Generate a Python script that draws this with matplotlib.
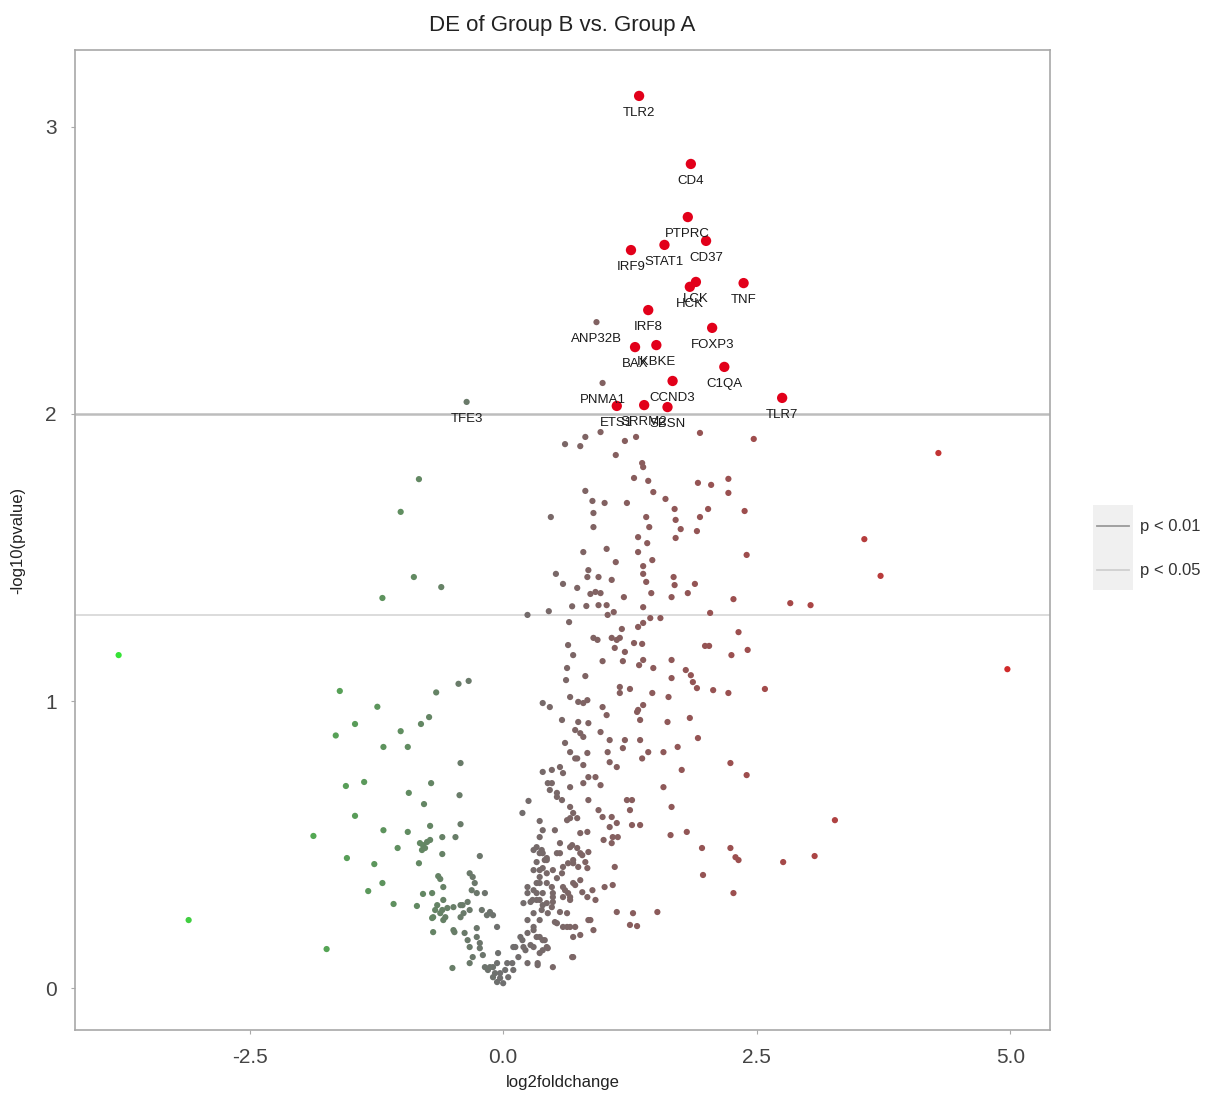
import matplotlib
matplotlib.use("Agg")
import matplotlib.pyplot as plt
import numpy as np
from matplotlib.colors import LinearSegmentedColormap, TwoSlopeNorm
from matplotlib.lines import Line2D
from matplotlib.patches import Rectangle

plt.rcParams['font.family'] = ['Liberation Sans', 'DejaVu Sans']

# ---------------- data ----------------
title = "DE of Group B vs. Group A"
x_label = "log2foldchange"
y_label = "-log10(pvalue)"
x_ticks = [-2.5, 0.0, 2.5, 5.0]
y_ticks = [0, 1, 2, 3]
threshold_values = [2.0, 1.301]
threshold_labels = ["p < 0.01", "p < 0.05"]

# labelled genes
label_genes = ["TLR2", "CD4", "PTPRC", "CD37", "IRF9", "STAT1", "LCK", "HCK", "TNF",
               "IRF8", "FOXP3", "BAX", "IKBKE", "C1QA", "CCND3", "TLR7",
               "ETS1", "SRRM2", "SBSN", "ANP32B", "PNMA1", "TFE3"]
label_fc = [1.34, 1.85, 1.82, 2.00, 1.26, 1.59, 1.90, 1.84, 2.37,
            1.43, 2.06, 1.30, 1.51, 2.18, 1.67, 2.75,
            1.12, 1.39, 1.62, 0.92, 0.98, -0.36]
label_nlp = [3.108, 2.871, 2.686, 2.603, 2.571, 2.589, 2.46, 2.443, 2.456,
             2.362, 2.30, 2.233, 2.240, 2.164, 2.115, 2.056,
             2.028, 2.031, 2.024, 2.32, 2.108, 2.042]

# all other genes (log2 fold change, -log10 p-value)
bg_fc = [
    -3.79, -3.10, -1.74, -0.83, -1.01, -0.88, -0.61, -1.19,
    -1.61, -1.24, -1.46, -1.65, -1.01, -1.18, -0.94, -0.81, -0.73, -0.66, -0.44, -0.34,
    -0.42, -1.55, -1.37, -0.93, -0.71, -0.43, -0.78, -1.46, -1.87, -1.18, -0.94, -0.72,
    -0.42, -0.60, -0.47, -0.79, -0.75, -0.80, -1.04, -0.60, -0.23, -1.54, -1.27, -0.83,
    -1.19, -1.33, -1.08, -0.85, -0.64, -0.62, -0.59, -0.79, -0.70, -0.65, -0.60, -0.55,
    -0.69, -0.59, -0.62, -0.40, -0.35, -0.33, -0.39, -0.30, -0.28, -0.31, -0.26, -0.18,
    -0.21, -0.16, -0.10, -0.06, -0.69, -0.48, -0.38, -0.26, -0.50, -0.05,
    -0.82, -0.77, -0.72, -0.33, -0.59, -0.67, -0.57, -0.70, -0.49, -0.42, -0.13, -0.42,
    -0.49, -0.35, -0.33, -0.23, -0.20, -0.30, -0.33, -0.26, -0.23, -0.18, -0.15, -0.10,
    -0.06, -0.03, 0.02, 0.04, -0.06, -0.10, -0.13, -0.08, -0.03, 0.00, 0.05, 0.10,
    0.09, 0.15, 0.12, 0.19, 0.24, 0.22, 0.27, 0.33, 0.30, 0.36, 0.30, 0.38,
    0.44, 0.43, 0.49, 0.39, 0.48, 0.53, 0.59, 0.59, 0.64, 0.69, 0.76, 0.83,
    0.30, 0.36, 0.27, 0.33, 0.39, 0.33, 0.36, 0.43, 0.56, 0.66, 0.76, 0.81,
    0.69, 0.59, 0.49, 0.56, 0.63, 0.71, 0.69, 0.76, 0.89, 0.91, 0.86, 0.88,
    0.68, 0.49, 0.34, 0.43, 0.39,
    0.24, 0.45, 0.68, 0.65, 0.64, 0.69, 0.63, 0.62, 0.66, 0.39, 0.46, 0.58,
    0.61, 0.66, 0.71, 0.39, 0.48, 0.56, 0.59, 0.44, 0.53, 0.58, 0.66, 0.69,
    0.25, 0.19, 0.36, 0.39, 0.51, 0.63, 0.33, 0.39, 0.43, 0.53, 0.69, 0.30,
    0.36, 0.43, 0.61, 0.66, 0.24, 0.20, 0.33, 0.39, 0.49, 0.63, 0.53, 0.66,
    0.24, 0.30, 0.17, 0.36, 0.10, 0.20, 0.30, 0.39, 0.69,
    0.74, 0.79, 0.83, 0.98, 1.02, 0.74, 0.84, 0.71, 0.76, 0.79, 0.96, 1.32,
    1.35, 1.38, 1.62, 1.84, 1.92, 1.05, 1.20, 1.18, 1.35, 1.43, 1.37, 1.58,
    1.72, 1.76, 2.24, 2.40, 0.73, 0.83, 0.79, 1.03, 1.05, 1.12, 0.84, 0.91,
    0.96, 0.79, 0.66, 0.48, 0.46, 0.53, 0.66, 0.73, 0.84, 0.94, 0.98, 1.07,
    1.05, 1.12, 1.22, 1.27, 1.25, 1.27, 1.35, 1.58, 1.66, 1.65, 1.81, 0.36,
    0.68, 0.76, 0.83, 0.99, 1.07, 1.08, 1.13, 0.30, 0.38, 0.41, 0.56, 0.64,
    0.73, 0.78, 0.84, 0.74, 0.83, 0.36, 0.43, 0.58, 1.10, 0.24, 0.33, 0.71,
    0.78, 0.49, 0.66, 1.00, 1.08, 0.29, 0.36, 0.48, 1.12, 1.28, 1.52, 1.25,
    1.32, 0.51, 0.59, 0.84, 0.41, 0.44, 0.36, 0.34, 0.24, 2.24, 2.29, 2.32,
    2.76, 1.97, 2.27,
    0.61, 0.76, 0.81, 0.96, 1.20, 1.31, 1.94, 2.47, 1.11, 1.37, 1.38, 1.29,
    1.43, 1.48, 1.60, 0.81, 0.88, 1.00, 1.22, 1.92, 2.05, 2.22, 2.22, 0.47,
    0.89, 0.89, 1.41, 1.44, 1.69, 1.70, 1.75, 1.70, 1.91, 1.94, 2.02, 2.38,
    1.33, 1.42, 0.79, 1.02, 1.11, 1.33, 1.47, 1.38, 1.38, 1.41, 1.46, 2.40,
    0.52, 0.59, 0.73, 0.84, 0.83, 0.94, 1.07, 0.86, 0.91, 0.96, 1.19, 1.68,
    1.69, 1.66, 1.89, 1.82, 2.27, 2.83, 0.82, 0.94, 1.02, 1.03, 1.09, 1.38,
    1.45, 1.55, 1.33, 1.38, 2.04, 1.17, 0.89, 0.93, 1.07, 1.12, 1.15, 1.29,
    1.37, 1.99, 2.03, 2.41, 2.25, 1.10, 1.20, 0.98, 1.18, 1.38, 1.34, 1.66,
    1.48, 1.66, 1.80, 1.85, 1.87, 1.91, 0.81, 2.22, 2.58, 1.15, 1.15, 1.25,
    1.47, 1.63, 1.33,
    4.29, 3.56, 3.72, 3.03, 4.97, 2.32, 3.27, 3.07, 1.96, 2.07,
]
bg_nlp = [
    1.160, 0.237, 0.136, 1.773, 1.659, 1.432, 1.397, 1.359,
    1.035, 0.980, 0.920, 0.880, 0.895, 0.840, 0.840, 0.920, 0.944, 1.030, 1.060, 1.070,
    0.784, 0.704, 0.718, 0.680, 0.714, 0.672, 0.641, 0.600, 0.530, 0.550, 0.544, 0.565,
    0.571, 0.526, 0.526, 0.498, 0.509, 0.481, 0.488, 0.467, 0.460, 0.453, 0.432, 0.435,
    0.366, 0.338, 0.293, 0.286, 0.390, 0.380, 0.352, 0.328, 0.331, 0.289, 0.272, 0.279,
    0.247, 0.237, 0.261, 0.289, 0.300, 0.272, 0.261, 0.387, 0.366, 0.341, 0.331, 0.331,
    0.272, 0.254, 0.254, 0.213, 0.195, 0.195, 0.192, 0.209, 0.070, 0.122,
    0.505, 0.488, 0.516, 0.400, 0.307, 0.272, 0.247, 0.244, 0.282, 0.289, 0.265, 0.247,
    0.202, 0.167, 0.143, 0.139, 0.115, 0.108, 0.087, 0.178, 0.157, 0.073, 0.063, 0.038,
    0.021, 0.052, 0.063, 0.087, 0.087, 0.073, 0.073, 0.052, 0.035, 0.017, 0.038, 0.063,
    0.087, 0.108, 0.143, 0.167, 0.192, 0.132, 0.150, 0.178, 0.213, 0.237, 0.261, 0.272,
    0.261, 0.296, 0.317, 0.331, 0.352, 0.383, 0.352, 0.317, 0.331, 0.366, 0.376, 0.317,
    0.341, 0.366, 0.300, 0.331, 0.418, 0.439, 0.470, 0.453, 0.505, 0.491, 0.470, 0.439,
    0.435, 0.422, 0.411, 0.265, 0.213, 0.213, 0.178, 0.185, 0.202, 0.307, 0.237, 0.341,
    0.108, 0.073, 0.087, 0.143, 0.167,
    1.300, 1.313, 1.330, 1.275, 1.195, 1.160, 1.115, 1.073, 1.014, 0.993, 0.979, 0.934,
    0.854, 0.822, 0.800, 0.753, 0.760, 0.770, 0.749, 0.714, 0.680, 0.655, 0.631, 0.610,
    0.652, 0.610, 0.582, 0.550, 0.550, 0.585, 0.491, 0.470, 0.446, 0.470, 0.446, 0.411,
    0.387, 0.366, 0.341, 0.317, 0.331, 0.296, 0.307, 0.289, 0.300, 0.261, 0.226, 0.213,
    0.237, 0.202, 0.178, 0.178, 0.143, 0.143, 0.143, 0.132, 0.108,
    0.997, 0.993, 1.003, 0.979, 0.951, 0.927, 0.923, 0.899, 0.888, 0.875, 0.892, 0.962,
    0.934, 0.986, 0.927, 0.941, 0.871, 0.864, 0.864, 0.836, 0.864, 0.822, 0.800, 0.822,
    0.840, 0.760, 0.784, 0.742, 0.800, 0.819, 0.777, 0.822, 0.787, 0.770, 0.735, 0.735,
    0.707, 0.714, 0.700, 0.714, 0.690, 0.666, 0.592, 0.592, 0.655, 0.620, 0.596, 0.596,
    0.561, 0.575, 0.655, 0.655, 0.620, 0.568, 0.568, 0.700, 0.631, 0.533, 0.544, 0.526,
    0.498, 0.540, 0.544, 0.516, 0.505, 0.526, 0.526, 0.481, 0.481, 0.446, 0.470, 0.435,
    0.488, 0.463, 0.474, 0.422, 0.418, 0.411, 0.400, 0.400, 0.422, 0.352, 0.366, 0.359,
    0.334, 0.331, 0.307, 0.352, 0.359, 0.307, 0.307, 0.282, 0.265, 0.261, 0.265, 0.220,
    0.216, 0.230, 0.213, 0.237, 0.167, 0.139, 0.122, 0.080, 0.087, 0.488, 0.456, 0.446,
    0.439, 0.394, 0.331,
    1.895, 1.888, 1.920, 1.937, 1.906, 1.920, 1.934, 1.913, 1.857, 1.829, 1.815, 1.777,
    1.767, 1.728, 1.704, 1.732, 1.697, 1.690, 1.690, 1.760, 1.753, 1.774, 1.725, 1.641,
    1.655, 1.606, 1.641, 1.606, 1.669, 1.631, 1.599, 1.568, 1.592, 1.641, 1.669, 1.662,
    1.571, 1.550, 1.519, 1.530, 1.484, 1.519, 1.491, 1.470, 1.443, 1.415, 1.376, 1.509,
    1.443, 1.408, 1.394, 1.456, 1.432, 1.432, 1.422, 1.373, 1.380, 1.376, 1.362, 1.432,
    1.404, 1.362, 1.408, 1.376, 1.355, 1.341, 1.331, 1.334, 1.334, 1.300, 1.310, 1.327,
    1.289, 1.289, 1.258, 1.272, 1.307, 1.251, 1.220, 1.213, 1.220, 1.213, 1.220, 1.202,
    1.199, 1.192, 1.192, 1.178, 1.160, 1.185, 1.171, 1.139, 1.139, 1.143, 1.125, 1.143,
    1.115, 1.080, 1.108, 1.090, 1.066, 1.045, 1.087, 1.028, 1.042, 1.049, 1.028, 1.042,
    1.028, 1.014, 0.969,
    1.864, 1.564, 1.436, 1.334, 1.111, 1.240, 0.585, 0.460, 0.488, 1.038,
]

# ---------------- figure ----------------
fig = plt.figure(figsize=(12.19, 10.99), dpi=100)
ax = fig.add_axes([75 / 1219, 1 - 1030 / 1099, 975 / 1219, 980 / 1099])

cmap = LinearSegmentedColormap.from_list("volc", ["#36e436", "#6f6f6f", "#d02a2a"])
norm = TwoSlopeNorm(vmin=-3.85, vcenter=0.0, vmax=5.0)

bg_fc_a = np.array(bg_fc)
bg_nlp_a = np.array(bg_nlp)
ax.scatter(bg_fc_a, bg_nlp_a, c=bg_fc_a, cmap=cmap, norm=norm, s=20,
           edgecolors='none', zorder=3)

lf = np.array(label_fc)
ln = np.array(label_nlp)
sig = (ln > 2.0) & (np.abs(lf) >= 1.0)
ax.scatter(lf[~sig], ln[~sig], c=lf[~sig], cmap=cmap, norm=norm, s=20,
           edgecolors='none', zorder=3)
ax.scatter(lf[sig], ln[sig], color='#e2001a', s=55, edgecolors='none', zorder=4)

for g, x, y in zip(label_genes, label_fc, label_nlp):
    ax.annotate(g, (x, y), xytext=(0, -8), textcoords='offset points',
                ha='center', va='top', fontsize=9.5, color='#1a1a1a', zorder=5)

line_colors = ['#bdbdbd', '#d9d9d9']
line_widths = [1.8, 1.3]
for v, c, w in zip(threshold_values, line_colors, line_widths):
    ax.axhline(v, color=c, lw=w, zorder=2)

ax.set_xlim(-4.22, 5.39)
ax.set_ylim(-0.146, 3.268)
ax.set_xticks(x_ticks)
ax.set_xticklabels([f"{t:.1f}" for t in x_ticks])
ax.set_yticks(y_ticks)
ax.set_yticklabels([str(t) for t in y_ticks])
ax.tick_params(axis='both', length=3, color='#aaaaaa', labelsize=15,
               labelcolor='#444444')
ax.tick_params(axis='x', pad=10)
ax.tick_params(axis='y', pad=10)
for s in ax.spines.values():
    s.set_color('#a8a8a8')
    s.set_linewidth(1.2)

ax.set_title(title, fontsize=16, color='#222222', pad=14)
ax.set_xlabel(x_label, fontsize=12, color='#222222', labelpad=6)
ax.set_ylabel(y_label, fontsize=12, color='#222222', labelpad=14)

# legend (manual, in figure pixel coordinates)
W, H = 1219, 1099
fig.add_artist(Rectangle((1093 / W, 1 - 590 / H), 40 / W, 85 / H,
                         transform=fig.transFigure, facecolor='#f0f0f0',
                         edgecolor='none'))
for lab, c, ypx in zip(threshold_labels, ['#9a9a9a', '#cfcfcf'], [526, 570]):
    fig.add_artist(Line2D([1097 / W, 1129 / W], [1 - ypx / H, 1 - ypx / H],
                          transform=fig.transFigure, color=c, lw=1.3))
    fig.text(1140 / W, 1 - ypx / H, lab, fontsize=12, color='#333333',
             va='center', ha='left')

fig.savefig("out.png", dpi=100, facecolor='white')
